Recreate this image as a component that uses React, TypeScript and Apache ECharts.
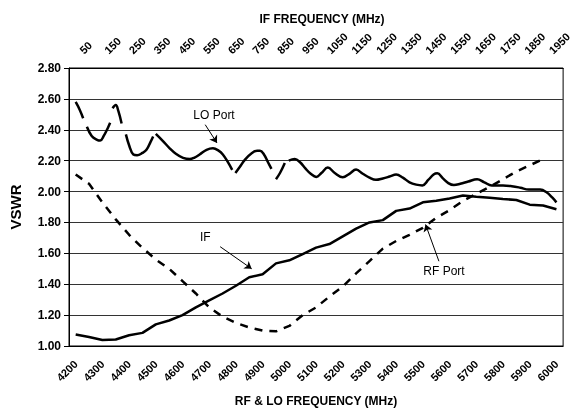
import React, { useEffect, useRef } from "react";
import * as echarts from "echarts";

const FONT = "'Liberation Sans', Arial, Helvetica, sans-serif";

// RF & LO frequency (MHz), one sample every 50 MHz
const rfLoFreq = [
  4200, 4250, 4300, 4350, 4400, 4450, 4500, 4550, 4600, 4650, 4700, 4750, 4800,
  4850, 4900, 4950, 5000, 5050, 5100, 5150, 5200, 5250, 5300, 5350, 5400, 5450,
  5500, 5550, 5600, 5650, 5700, 5750, 5800, 5850, 5900, 5950, 6000,
];
// IF frequency tick labels (top axis)
const ifFreqLabels = [
  "50", "150", "250", "350", "450", "550", "650", "750", "850", "950", "1050",
  "1150", "1250", "1350", "1450", "1550", "1650", "1750", "1850", "1950",
];

// IF port VSWR
const ifVswr = [
  1.075, 1.058, 1.039, 1.042, 1.07, 1.085, 1.14, 1.165, 1.2, 1.25, 1.295, 1.34,
  1.39, 1.445, 1.465, 1.535, 1.555, 1.595, 1.637, 1.66, 1.71, 1.76, 1.8, 1.815,
  1.875, 1.89, 1.93, 1.94, 1.955, 1.975, 1.967, 1.96, 1.952, 1.945, 1.915, 1.91,
  1.885,
];
// RF port VSWR
const rfPortVswr = [
  2.11, 2.05, 1.93, 1.82, 1.72, 1.635, 1.56, 1.5, 1.42, 1.34, 1.25, 1.19, 1.15,
  1.12, 1.1, 1.095, 1.13, 1.2, 1.25, 1.32, 1.385, 1.47, 1.55, 1.63, 1.68, 1.72,
  1.765, 1.83, 1.88, 1.94, 1.985, 2.03, 2.08, 2.13, 2.17, 2.21, null,
];

// LO port VSWR (null = gap in the trace)
const loPortFreq = [
  4200, 4215, 4228, 4235, 4242, 4260, 4280, 4292, 4305, 4320, 4329, 4334, 4338,
  4350, 4360, 4372, 4380, 4388, 4400, 4416, 4430, 4450, 4465, 4480, 4490, 4495,
  4500, 4525, 4552, 4575, 4602, 4627, 4645, 4664, 4690, 4714, 4735, 4751, 4770,
  4786, 4792, 4798, 4815, 4834, 4860, 4880, 4890, 4905, 4920, 4933, 4942, 4950,
  4965, 4983, 4990, 4998, 5020, 5040, 5060, 5080, 5101, 5120, 5144, 5170, 5200,
  5225, 5250, 5275, 5300, 5324, 5350, 5375, 5400, 5425, 5450, 5475, 5498, 5520,
  5540, 5554, 5575, 5595, 5616, 5640, 5670, 5703, 5730, 5758, 5800, 5833, 5865,
  5896, 5939, 5963, 5985, 6000,
];
const loPortVswr = [
  2.58, 2.53, 2.475, null, 2.42, 2.36, 2.335, 2.33, 2.36, 2.41, 2.445, null, 2.54,
  2.56, 2.52, 2.44, null, 2.37, 2.3, 2.24, 2.235, 2.25, 2.27, 2.32, 2.357, null,
  2.373, 2.33, 2.28, 2.245, 2.218, 2.21, 2.22, 2.24, 2.27, 2.28, 2.265, 2.24, 2.19,
  2.14, null, 2.12, 2.16, 2.207, 2.25, 2.265, 2.265, 2.24, 2.19, 2.147, null, 2.08,
  2.12, 2.185, null, 2.2, 2.21, 2.19, 2.15, 2.115, 2.095, 2.12, 2.155, 2.12, 2.092,
  2.115, 2.142, 2.115, 2.09, 2.076, 2.085, 2.097, 2.11, 2.09, 2.06, 2.045, 2.04,
  2.075, 2.11, 2.118, 2.085, 2.055, 2.042, 2.05, 2.065, 2.08, 2.06, 2.04, 2.04,
  2.035, 2.025, 2.013, 2.013, 1.995, 1.96, 1.93,
];

// annotations (data coordinates)
const labelTexts = ["LO Port", "IF", "RF Port"];
const labelFreq = [4718, 4685, 5579];
const labelVswr = [2.498, 1.703, 1.483];
const arrowFromFreq = [4685, 4741, 5560];
const arrowFromVswr = [2.433, 1.643, 1.549];
const arrowToFreq = [4729, 4859, 5510];
const arrowToVswr = [2.315, 1.5, 1.787];

export default function App() {
  const ref = useRef<HTMLDivElement>(null);

  useEffect(() => {
    if (!ref.current) return;
    const chart = echarts.init(ref.current, undefined, { renderer: "svg" });
    const axisLabelBase = {
      fontFamily: FONT,
      fontWeight: "bold" as const,
      color: "#000",
    };
    chart.setOption({
      animation: false,
      title: {
        text: "IF FREQUENCY (MHz)",
        left: 317,
        top: 8,
        textAlign: "center",
        textStyle: { ...axisLabelBase, fontSize: 12 },
      },
      grid: {
        left: 68,
        right: 9,
        top: 68,
        bottom: 65,
        show: true,
        borderColor: "#000",
        borderWidth: 1,
      },
      xAxis: [
        {
          type: "category",
          position: "bottom",
          data: rfLoFreq.map(String),
          boundaryGap: true,
          axisLine: { show: true, lineStyle: { color: "#000", width: 1 } },
          axisTick: { show: false },
          splitLine: { show: false },
          axisLabel: {
            ...axisLabelBase,
            interval: 1,
            rotate: 45,
            fontSize: 11,
            margin: 16,
          },
          name: "RF & LO FREQUENCY (MHz)",
          nameLocation: "middle",
          nameGap: 49,
          nameTextStyle: { ...axisLabelBase, fontSize: 12 },
        },
        {
          type: "category",
          position: "top",
          data: ifFreqLabels,
          boundaryGap: true,
          axisLine: { show: true, lineStyle: { color: "#000", width: 1 } },
          axisTick: { show: false },
          splitLine: { show: false },
          axisLabel: {
            ...axisLabelBase,
            interval: 0,
            rotate: -45,
            fontSize: 11,
            margin: 16,
          },
        },
        {
          type: "value",
          position: "bottom",
          min: 4175,
          max: 6025,
          show: false,
        },
      ],
      yAxis: {
        type: "value",
        min: 1,
        max: 2.8,
        interval: 0.2,
        axisLine: { show: true, lineStyle: { color: "#000", width: 1 } },
        axisTick: { show: true, length: 5, lineStyle: { color: "#000" } },
        splitLine: { show: true, lineStyle: { color: "#333", width: 1 } },
        axisLabel: {
          ...axisLabelBase,
          fontSize: 12,
          margin: 8,
          formatter: (v: number) => v.toFixed(2),
        },
        name: "VSWR",
        nameLocation: "middle",
        nameRotate: 90,
        nameGap: 46,
        nameTextStyle: { ...axisLabelBase, fontSize: 15 },
      },
      series: [
        {
          name: "IF",
          type: "line",
          xAxisIndex: 2,
          yAxisIndex: 0,
          silent: true,
          symbol: "none",
          smooth: false,
          lineStyle: { color: "#000", width: 2.5 },
          data: rfLoFreq.map((f, i) => [f, ifVswr[i]]),
          markLine: {
            silent: true,
            symbol: ["none", "arrow"],
            symbolSize: 7,
            label: { show: false },
            lineStyle: { color: "#000", width: 1, type: "solid" },
            data: arrowFromFreq.map((f, i) => [
              { coord: [f, arrowFromVswr[i]] },
              { coord: [arrowToFreq[i], arrowToVswr[i]] },
            ]),
          },
          markPoint: {
            silent: true,
            symbol: "rect",
            symbolSize: 1,
            itemStyle: { color: "transparent" },
            label: {
              show: true,
              position: "inside",
              color: "#000",
              fontFamily: FONT,
              fontSize: 12,
              formatter: (p: any) => p.name,
            },
            data: labelTexts.map((t, i) => ({
              name: t,
              coord: [labelFreq[i], labelVswr[i]],
            })),
          },
        },
        {
          name: "RF Port",
          type: "line",
          xAxisIndex: 2,
          yAxisIndex: 0,
          silent: true,
          symbol: "none",
          smooth: false,
          lineStyle: { color: "#000", width: 2.5, type: [8, 7] },
          data: rfLoFreq.map((f, i) => [f, rfPortVswr[i] == null ? "-" : rfPortVswr[i]]),
        },
        {
          name: "LO Port",
          type: "line",
          xAxisIndex: 2,
          yAxisIndex: 0,
          silent: true,
          symbol: "none",
          smooth: 0.4,
          connectNulls: false,
          lineStyle: { color: "#000", width: 2.5 },
          data: loPortFreq.map((f, i) => [f, loPortVswr[i] == null ? "-" : loPortVswr[i]]),
        },
      ],
    });

    return () => chart.dispose();
  }, []);

  return (
    <div
      ref={ref}
      style={{ position: "fixed", left: 0, top: 0, width: 574, height: 412 }}
    />
  );
}
